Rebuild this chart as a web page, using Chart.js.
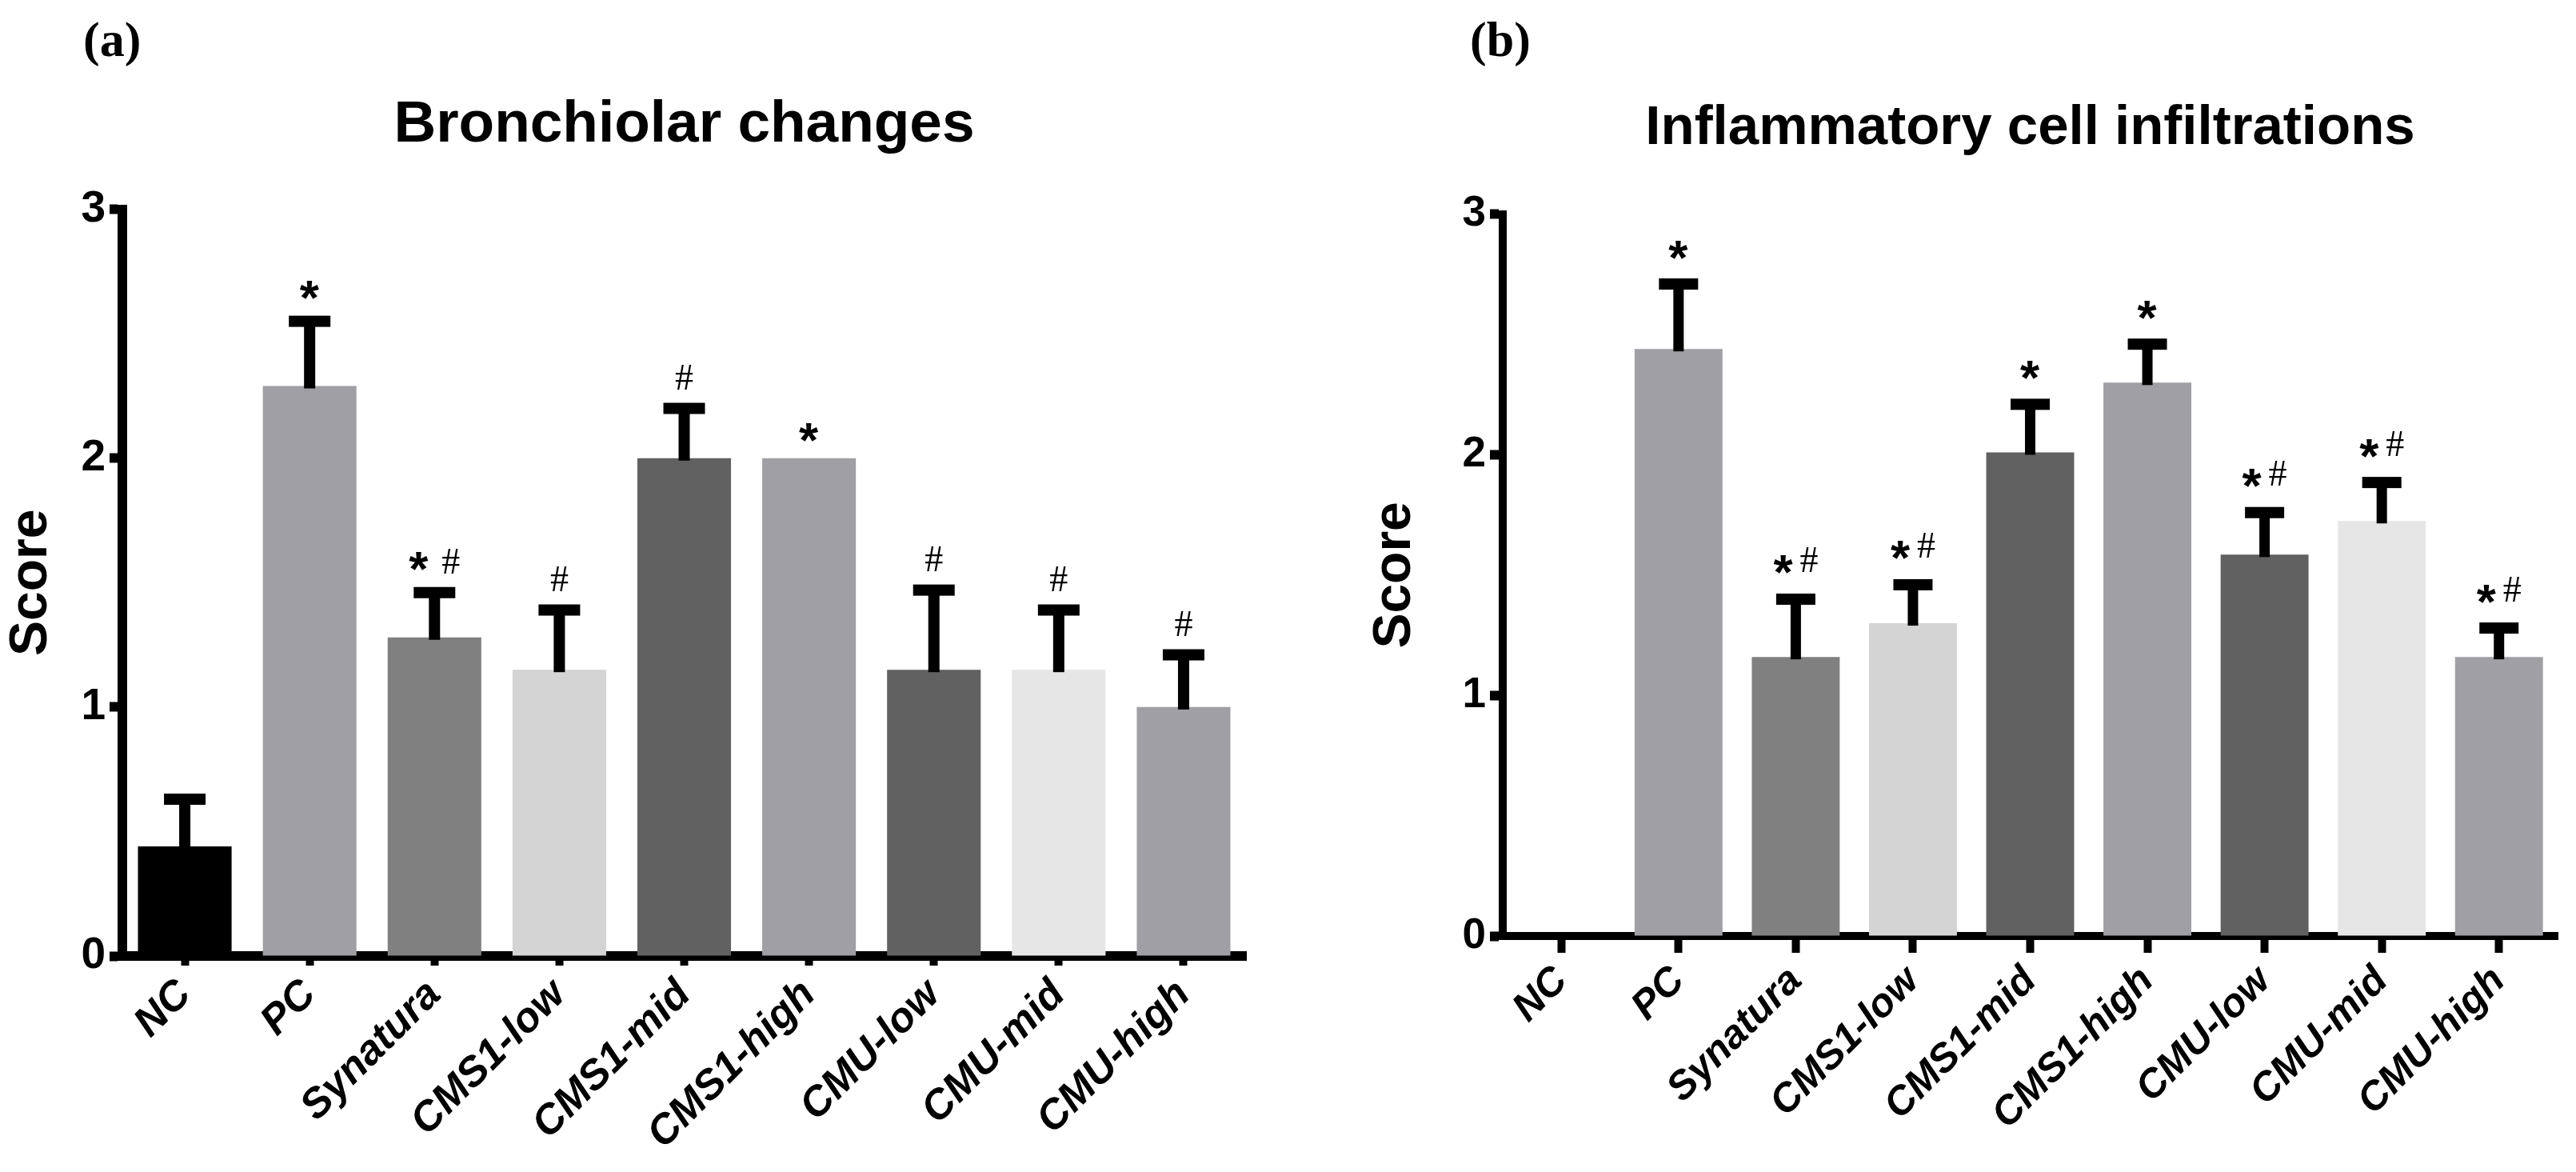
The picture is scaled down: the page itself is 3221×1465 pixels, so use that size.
<!DOCTYPE html>
<html><head><meta charset="utf-8">
<script src="https://cdn.jsdelivr.net/npm/chart.js@4.4.1/dist/chart.umd.min.js"></script>
<style>
html,body{margin:0;padding:0;background:#fff;}
#wrap{position:relative;width:3221px;height:1465px;background:#fff;}
.c{position:absolute;top:0;}
</style></head><body>
<div id="wrap">
<div class="c" style="left:0;width:1610px;height:1465px"><canvas id="ca" width="1610" height="1465" style="width:1610px;height:1465px"></canvas></div>
<div class="c" style="left:1610px;width:1611px;height:1465px"><canvas id="cb" width="1611" height="1465" style="width:1611px;height:1465px"></canvas></div>
</div>
<script>
// ---- data ----
const categories = ['NC','PC','Synatura','CMS1-low','CMS1-mid','CMS1-high','CMU-low','CMU-mid','CMU-high'];
const yTickValues = [0, 1, 2, 3];

const bronchMean = [0.44, 2.29, 1.28, 1.15, 2.00, 2.00, 1.15, 1.15, 1.00];
const bronchSem  = [0.19, 0.26, 0.18, 0.24, 0.20, 0.00, 0.32, 0.24, 0.21];
const bronchMarks = ['', '*', '* #', '#', '#', '*', '#', '#', '#'];

const inflMean = [0.00, 2.44, 1.16, 1.30, 2.01, 2.30, 1.585, 1.725, 1.16];
const inflSem  = [0.00, 0.27, 0.24, 0.16, 0.20, 0.16, 0.175, 0.16, 0.12];
const inflMarks = ['', '*', '*#', '*#', '*', '*', '*#', '*#', '*#'];

const barColors = ['#000000','#a0a0a4','#808080','#d4d4d4','#616161','#a0a0a4','#616161','#e6e6e6','#a0a0a4'];

const SANS = 'Liberation Sans, Arial, sans-serif';
const SERIF = 'Liberation Serif, Times New Roman, serif';

// ---- plugins ----
const errorBarPlugin = {
  id: 'errbars',
  afterDatasetsDraw(chart, args, o) {
    const ctx = chart.ctx;
    const meta = chart.getDatasetMeta(0);
    const ys = chart.scales.y;
    const mean = o.mean, sem = o.sem, marks = o.marks;
    ctx.save();
    ctx.fillStyle = '#000';
    meta.data.forEach((bar, i) => {
      const m = mean[i], e = sem[i];
      const yBar = ys.getPixelForValue(m);
      let topStuff = yBar;
      if (e > 0) {
        const yCap = ys.getPixelForValue(m + e);
        ctx.fillRect(bar.x - o.stem / 2, yCap, o.stem, yBar - yCap + 3);
        ctx.fillRect(bar.x - o.cap / 2, yCap - o.thick / 2, o.cap, o.thick);
        topStuff = yCap - o.thick / 2;
      }
      const txt = marks[i];
      if (!txt) return;
      const cy = topStuff - o.markOffset;
      const parts = [];
      if (txt.indexOf('*') >= 0) parts.push({ch: '*', font: 'bold ' + o.starSize + 'px ' + SANS, raise: 0});
      if (txt.indexOf('#') >= 0) parts.push({ch: '#', font: o.hashSize + 'px ' + SERIF, raise: o.hashRaise});
      let total = 0;
      parts.forEach((p, k) => {
        ctx.font = p.font;
        const mt = ctx.measureText(p.ch);
        p.left = mt.actualBoundingBoxLeft; p.w = mt.actualBoundingBoxLeft + mt.actualBoundingBoxRight;
        p.asc = mt.actualBoundingBoxAscent; p.desc = mt.actualBoundingBoxDescent;
        total += p.w + (k > 0 ? o.gap : 0);
      });
      let x = bar.x - total / 2;
      parts.forEach((p, k) => {
        if (k > 0) x += o.gap;
        ctx.font = p.font;
        ctx.textBaseline = 'alphabetic';
        ctx.textAlign = 'left';
        const base = cy - p.raise + (p.asc - p.desc) / 2;
        ctx.fillText(p.ch, x + p.left, base);
        x += p.w;
      });
    });
    ctx.restore();
  }
};

const panelLabelPlugin = {
  id: 'panelLabel',
  afterDraw(chart, args, o) {
    const ctx = chart.ctx;
    ctx.save();
    ctx.fillStyle = '#000';
    ctx.font = 'bold ' + o.size + 'px ' + SERIF;
    ctx.textAlign = 'left';
    ctx.textBaseline = 'alphabetic';
    ctx.fillText(o.text, o.x, o.y);
    ctx.restore();
  }
};

function makeChart(id, cfg) {
  return new Chart(document.getElementById(id), {
    type: 'bar',
    data: {
      labels: categories,
      datasets: [{
        data: cfg.mean,
        backgroundColor: barColors,
        borderWidth: 0,
        barPercentage: 0.75,
        categoryPercentage: 1.0
      }]
    },
    options: {
      responsive: false,
      animation: false,
      devicePixelRatio: 1,
      layout: { padding: { left: cfg.padLeft, right: cfg.padRight, top: 0, bottom: 0 } },
      plugins: {
        legend: { display: false },
        tooltip: { enabled: false },
        title: {
          display: true, text: cfg.title, fullSize: false, color: '#000',
          font: { family: SANS, size: cfg.titleSize, weight: 'bold', lineHeight: 1.2 },
          padding: { top: cfg.titleTop, bottom: cfg.titleBottom }
        },
        errbars: {
          mean: cfg.mean, sem: cfg.sem, marks: cfg.marks,
          stem: cfg.stem, cap: cfg.cap, thick: 14, markOffset: cfg.markOffset,
          starSize: 62, hashSize: 46, gap: cfg.gap, hashRaise: cfg.hashRaise
        },
        panelLabel: { text: cfg.panel, x: cfg.panelX, y: 70, size: 62 }
      },
      scales: {
        x: {
          offset: true,
          grid: { display: true, drawOnChartArea: false, drawTicks: true, offset: false,
                  tickLength: cfg.xTickLen, tickWidth: 10, color: '#000', tickColor: '#000' },
          border: { display: true, color: '#000', width: cfg.border },
          ticks: { color: '#000', autoSkip: false, maxRotation: 45, minRotation: 45, padding: 6,
                   font: { family: SANS, size: cfg.xFont, weight: 'bold', style: 'italic' } },
          afterFit: s => { s.height = cfg.xHeight; }
        },
        y: {
          min: 0, max: 3,
          afterBuildTicks: s => { s.ticks = yTickValues.map(v => ({ value: v })); },
          grid: { display: true, drawOnChartArea: false, drawTicks: true,
                  tickLength: 16, tickWidth: 12, color: '#000', tickColor: '#000' },
          border: { display: true, color: '#000', width: cfg.border },
          ticks: { color: '#000', padding: 5, font: { family: SANS, size: cfg.yFont, weight: 'bold' } },
          title: { display: true, text: 'Score', color: '#000', padding: { top: 0, bottom: 0 },
                   font: { family: SANS, size: 66, weight: 'bold', lineHeight: 1.2 } },
          afterFit: s => { s.width = cfg.yWidth; }
        }
      }
    },
    plugins: [errorBarPlugin, panelLabelPlugin]
  });
}

makeChart('ca', {
  mean: bronchMean, sem: bronchSem, marks: bronchMarks,
  title: 'Bronchiolar changes', titleSize: 73, titleTop: 113, titleBottom: 61,
  padLeft: 0, padRight: 52, yWidth: 153, xHeight: 270,
  border: 12, xTickLen: 12, xFont: 52, yFont: 55,
  stem: 14, cap: 52, markOffset: 32, gap: 16, hashRaise: 0,
  panel: '(a)', panelX: 104
});

makeChart('cb', {
  mean: inflMean, sem: inflSem, marks: inflMarks,
  title: 'Inflammatory cell infiltrations', titleSize: 69, titleTop: 120, titleBottom: 65,
  padLeft: 95, padRight: 23, yWidth: 174, xHeight: 295,
  border: 10, xTickLen: 21, xFont: 50, yFont: 53,
  stem: 13, cap: 49, markOffset: 36, gap: 8, hashRaise: 6,
  panel: '(b)', panelX: 228
});
</script>
</body></html>
